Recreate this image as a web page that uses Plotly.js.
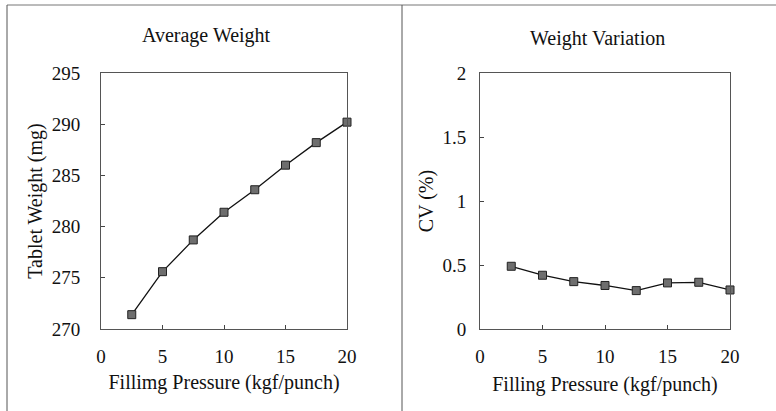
<!DOCTYPE html>
<html>
<head>
<meta charset="utf-8">
<script src="https://cdn.plot.ly/plotly-3.0.1.min.js"></script>
<style>html,body{margin:0;padding:0;background:#fff;}#chart{width:776px;height:411px;}</style>
</head>
<body>
<div id="chart"></div>
<script>
// Data
const pressure = [2.5, 5, 7.5, 10, 12.5, 15, 17.5, 20];
const avgWeight = [271.4, 275.6, 278.7, 281.4, 283.6, 286.0, 288.2, 290.2];
const cvPercent = [0.49, 0.42, 0.37, 0.34, 0.30, 0.36, 0.365, 0.305];

const xTicks = [0, 5, 10, 15, 20];
const yTicksLeft = [270, 275, 280, 285, 290, 295];
const yTicksRight = [0, 0.5, 1, 1.5, 2];
const yTickTextRight = ['0', '0.5', '1', '1.5', '2'];

const FONT = 'Liberation Serif';
const W = 776, H = 411;
const px = v => v / W;
const py = v => 1 - v / H;

const markerStyle = {symbol: 'square', size: 8, color: '#6e6e6e', line: {color: '#222', width: 1}};
const lineStyle = {color: '#111', width: 1.3};

const traces = [
  {x: pressure, y: avgWeight, xaxis: 'x', yaxis: 'y', mode: 'lines+markers',
   marker: markerStyle, line: lineStyle, cliponaxis: false, showlegend: false},
  {x: pressure, y: cvPercent, xaxis: 'x2', yaxis: 'y2', mode: 'lines+markers',
   marker: markerStyle, line: lineStyle, cliponaxis: false, showlegend: false}
];

const axisCommon = {
  showgrid: false, zeroline: false, showline: true, mirror: true,
  linecolor: '#555', linewidth: 1, ticks: 'inside', ticklen: 4, tickcolor: '#444',
  tickfont: {family: FONT, size: 19, color: '#111'}
};

const titleFont = {family: FONT, size: 20, color: '#111'};

const layout = {
  width: W, height: H,
  margin: {l: 0, r: 0, t: 0, b: 0},
  paper_bgcolor: '#fff', plot_bgcolor: '#fff',
  font: {family: FONT, color: '#111'},
  xaxis: Object.assign({}, axisCommon, {
    domain: [px(101), px(347)], range: [0, 20], tickvals: xTicks, anchor: 'y',
    ticklabelstandoff: 10,
    title: {text: 'Fillimg Pressure (kgf/punch)', font: titleFont, standoff: 9}
  }),
  yaxis: Object.assign({}, axisCommon, {
    domain: [py(329), py(73)], range: [270, 295], tickvals: yTicksLeft, anchor: 'x',
    ticklabelstandoff: 16,
    title: {text: 'Tablet Weight (mg)', font: titleFont, standoff: 3}
  }),
  xaxis2: Object.assign({}, axisCommon, {
    domain: [px(480), px(730)], range: [0, 20], tickvals: xTicks, anchor: 'y2',
    ticklabelstandoff: 10,
    title: {text: 'Filling Pressure (kgf/punch)', font: titleFont, standoff: 11}
  }),
  yaxis2: Object.assign({}, axisCommon, {
    domain: [py(329), py(73)], range: [0, 2], tickvals: yTicksRight, ticktext: yTickTextRight, anchor: 'x2',
    ticklabelstandoff: 9,
    title: {text: 'CV (%)', font: titleFont, standoff: 3}
  }),
  annotations: [
    {text: 'Average Weight', xref: 'paper', yref: 'paper', x: px(206), y: py(35),
     xanchor: 'center', yanchor: 'middle',
     showarrow: false, font: {family: FONT, size: 20, color: '#111'}},
    {text: 'Weight Variation', xref: 'paper', yref: 'paper', x: px(597), y: py(38),
     xanchor: 'center', yanchor: 'middle',
     showarrow: false, font: {family: FONT, size: 20, color: '#111'}}
  ],
  shapes: [
    {type: 'line', xref: 'paper', yref: 'paper', x0: px(7), x1: 1, y0: py(5), y1: py(5), line: {color: '#777', width: 1}},
    {type: 'line', xref: 'paper', yref: 'paper', x0: px(7), x1: px(7), y0: py(5), y1: 0, line: {color: '#555', width: 1}},
    {type: 'line', xref: 'paper', yref: 'paper', x0: px(402), x1: px(402), y0: py(5), y1: 0, line: {color: '#555', width: 1}}
  ]
};

Plotly.newPlot('chart', traces, layout, {displayModeBar: false, staticPlot: true});
</script>
</body>
</html>
